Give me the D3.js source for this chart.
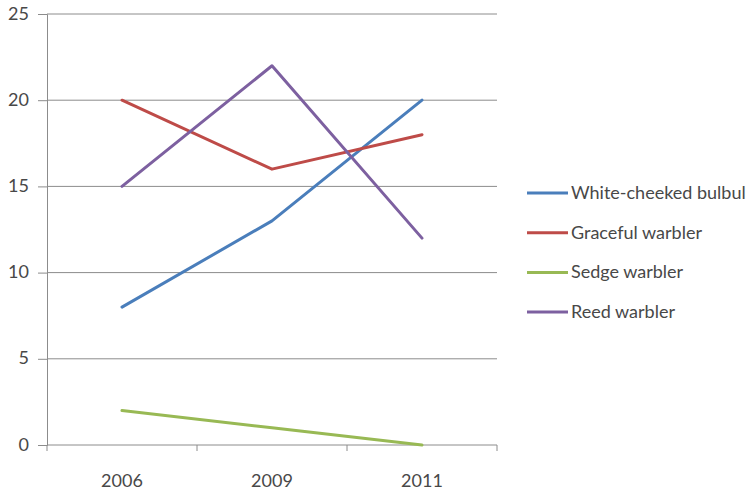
<!DOCTYPE html>
<html>
<head>
<meta charset="utf-8">
<script src="https://cdn.jsdelivr.net/npm/d3@7"></script>
<style>
  html, body { margin: 0; padding: 0; background: #fff; }
  svg { display: block; font-family: Lato, "Open Sans", sans-serif; }
</style>
</head>
<body>
<svg id="chart" width="751" height="493"></svg>
<script>
// Bird counts per survey year
const years = ["2006", "2009", "2011"];
const seriesNames = ["White-cheeked bulbul", "Graceful warbler", "Sedge warbler", "Reed warbler"];
const whiteCheekedBulbul = [8, 13, 20];
const gracefulWarbler = [20, 16, 18];
const sedgeWarbler = [2, 1, 0];
const reedWarbler = [15, 22, 12];
const yTicks = [0, 5, 10, 15, 20, 25];

const seriesValues = [whiteCheekedBulbul, gracefulWarbler, sedgeWarbler, reedWarbler];
const colors = ["#4a7ebb", "#be4b48", "#98b954", "#7d60a0"];
const textColor = "#484848";
const fontSize = "18px";

const svg = d3.select("#chart");
const plotLeft = 47, plotRight = 497, plotTop = 14, plotBottom = 445;

const x = d3.scaleBand().domain(years).range([plotLeft, plotRight]);
const y = d3.scaleLinear().domain([0, 25]).range([plotBottom, plotTop]);

// horizontal gridlines
svg.append("g")
  .selectAll("line")
  .data(yTicks.filter(d => d > 0))
  .join("line")
  .attr("x1", plotLeft).attr("x2", plotRight)
  .attr("y1", d => y(d)).attr("y2", d => y(d))
  .attr("stroke", "#8c8c8c").attr("stroke-width", 1);

// y axis
const yAxis = svg.append("g")
  .attr("transform", `translate(${plotLeft},0)`)
  .call(d3.axisLeft(y).tickValues(yTicks).tickSize(9).tickPadding(9));
yAxis.select(".domain").attr("stroke", "#8c8c8c");
yAxis.selectAll(".tick line").attr("stroke", "#8c8c8c");
yAxis.selectAll(".tick text")
  .attr("fill", textColor)
  .attr("dy", "0.28em")
  .style("font-family", "Lato, 'Open Sans', sans-serif")
  .style("font-size", fontSize);

// x axis: ticks at band boundaries
const xAxisG = svg.append("g").attr("transform", `translate(0,${plotBottom})`);
xAxisG.append("line")
  .attr("x1", plotLeft).attr("x2", plotRight)
  .attr("stroke", "#8c8c8c");
const boundaries = years.map(d => x(d)).concat([x(years[years.length - 1]) + x.bandwidth()]);
xAxisG.selectAll("line.tick")
  .data(boundaries)
  .join("line")
  .attr("class", "tick")
  .attr("x1", d => d).attr("x2", d => d)
  .attr("y1", 0).attr("y2", 6)
  .attr("stroke", "#8c8c8c");
xAxisG.selectAll("text")
  .data(years)
  .join("text")
  .attr("x", d => x(d) + x.bandwidth() / 2)
  .attr("y", 42)
  .attr("text-anchor", "middle")
  .attr("fill", textColor)
  .style("font-size", fontSize)
  .text(d => d);

// series lines
const line = d3.line()
  .x((d, i) => x(years[i]) + x.bandwidth() / 2)
  .y(d => y(d));

svg.append("g")
  .selectAll("path")
  .data(seriesValues)
  .join("path")
  .attr("d", d => line(d))
  .attr("fill", "none")
  .attr("stroke", (d, i) => colors[i])
  .attr("stroke-width", 3)
  .attr("stroke-linejoin", "round")
  .attr("stroke-linecap", "round");

// legend
const legend = svg.append("g").attr("transform", "translate(527,193)");
const items = legend.selectAll("g")
  .data(seriesNames)
  .join("g")
  .attr("transform", (d, i) => `translate(0,${i * 39.7})`);
items.append("line")
  .attr("x1", 0).attr("x2", 41)
  .attr("stroke", (d, i) => colors[i])
  .attr("stroke-width", 3);
items.append("text")
  .attr("x", 44)
  .attr("y", 6)
  .attr("fill", textColor)
  .style("font-size", fontSize)
  .text(d => d);
</script>
</body>
</html>
